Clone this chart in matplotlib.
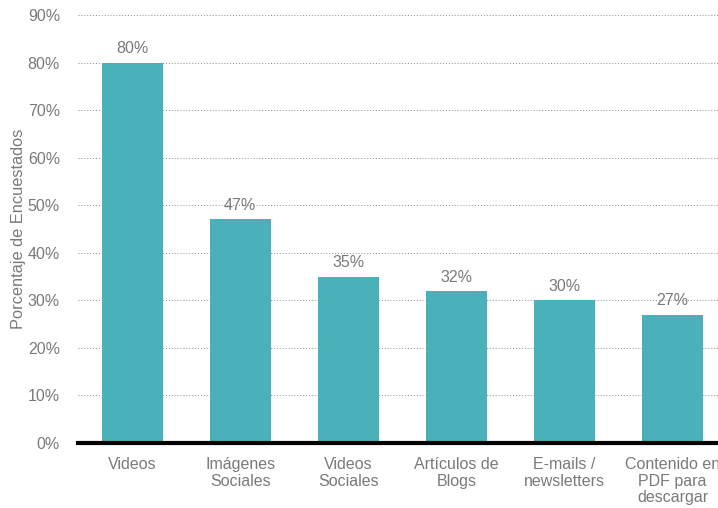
import matplotlib
matplotlib.use("Agg")
import matplotlib.pyplot as plt
import numpy as np

categories = ["Videos", "Imágenes\nSociales", "Videos\nSociales", "Artículos de\nBlogs",
              "E-mails /\nnewsletters", "Contenido en\nPDF para\ndescargar"]
values = [80, 47, 35, 32, 30, 27]
yticks = np.arange(0, 100, 10)

bar_color = "#4AB0BA"
grey = "#7a7a7a"
plt.rcParams["font.family"] = ["Liberation Sans", "DejaVu Sans"]

fig = plt.figure(figsize=(7.18, 5.08), dpi=100)
ax = fig.add_axes([78 / 718, 1 - 443 / 508, 1 - 78 / 718, (443 - 15) / 508])

x = np.arange(len(categories))
ax.bar(x, values, width=0.565, color=bar_color, zorder=3)
for xi, v in zip(x, values):
    ax.text(xi, v + 1.3, f"{v}%", ha="center", va="bottom", fontsize=11.5, color=grey)

ax.set_xlim(-0.5, 5.42)
ax.set_ylim(0, 90)
ax.set_yticks(yticks)
ax.set_yticklabels([f"{t}%" for t in yticks], fontsize=11.5, color=grey)
ax.set_xticks(x)
ax.set_xticklabels(categories, fontsize=11.5, color=grey, linespacing=1.15)
ax.tick_params(axis="both", length=0)
ax.tick_params(axis="y", pad=13)
ax.tick_params(axis="x", pad=10)
ax.set_ylabel("Porcentaje de Encuestados", fontsize=11.8, color=grey, labelpad=1)

ax.grid(axis="y", linestyle=(0, (1, 2)), color="#8c8c8c", linewidth=0.7, zorder=0)
for s in ["top", "right", "left"]:
    ax.spines[s].set_visible(False)
ax.spines["bottom"].set_linewidth(3)
ax.spines["bottom"].set_color("black")
ax.spines["bottom"].set_zorder(4)

fig.savefig("out.png", dpi=100)
